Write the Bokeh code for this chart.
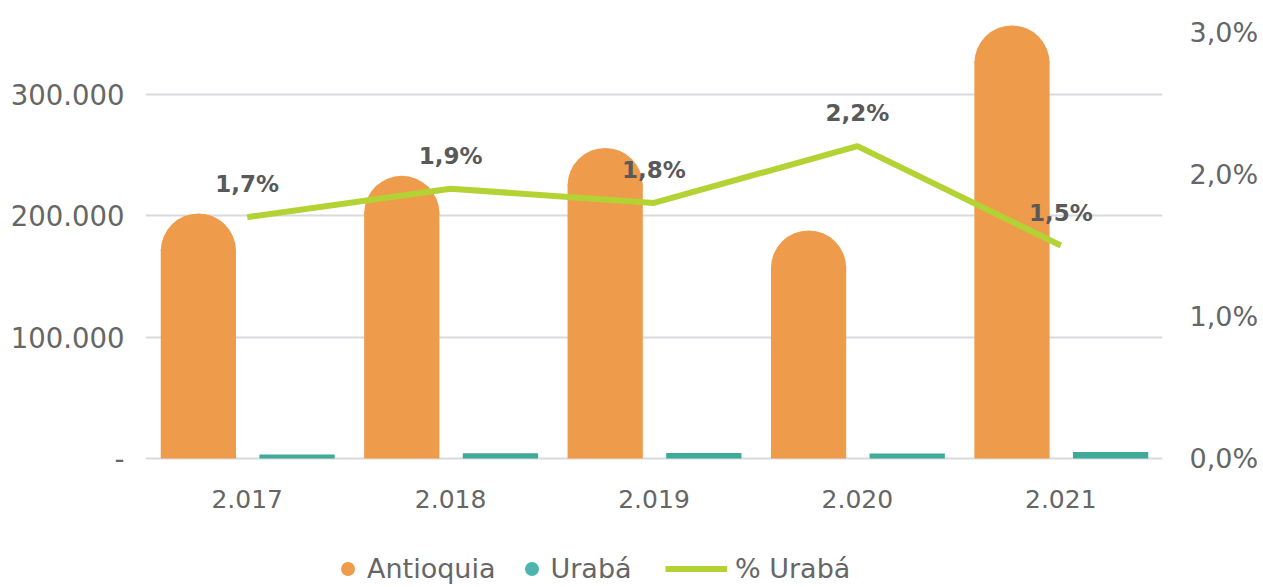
import numpy as np
from bokeh.plotting import figure
from bokeh.models import (ColumnDataSource, FactorRange, Range1d, LinearAxis,
                          Legend, LegendItem, FixedTicker)
from bokeh.transform import dodge
from bokeh.core.properties import value
from bokeh.embed import file_html
from bokeh.resources import INLINE

# ---- data ----
years = ["2.017", "2.018", "2.019", "2.020", "2.021"]
antioquia = [202000, 233000, 256000, 188000, 357000]
uraba = [3400, 4400, 4600, 4100, 5400]
pct_uraba = [1.7, 1.9, 1.8, 2.2, 1.5]
pct_labels = ["1,7%", "1,9%", "1,8%", "2,2%", "1,5%"]
left_ticks = [0, 100000, 200000, 300000]
left_tick_labels = ["-", "100.000", "200.000", "300.000"]
right_ticks = [0, 1, 2, 3]
right_tick_labels = ["0,0%", "1,0%", "2,0%", "3,0%"]

ORANGE = "#EF9B4C"
TEAL = "#3FAA98"
TEAL_LEG = "#4DB5AE"
GREEN = "#B3D334"
GREY = "#666666"
FONT = "DejaVu Sans"

W, H = 1263, 587
FL, FR, FT, FB = 145, 1162, 15, 458   # plot area edges in px (FB = zero line)
Y_MAX = 365200
P_MAX = 3.12
ny = Y_MAX / (FB - FT)                 # data units per pixel (left axis)
Y_MIN = -(H - FB) * ny                 # frame extends below zero line for labels/legend
P_MIN = -(H - FB) * P_MAX / (FB - FT)

BAR_W = 0.37
r_px = BAR_W * (FR - FL) / len(years) / 2
r_data = r_px * ny

src = ColumnDataSource(dict(year=years, antioquia=antioquia, uraba=uraba,
                            pct=pct_uraba, lab=pct_labels,
                            cap=[a - r_data for a in antioquia],
                            body=[a - r_data + 1.5 * ny for a in antioquia],
                            zero=[0] * len(years)))

p = figure(width=W, height=H, output_backend="svg", toolbar_location=None,
           x_range=FactorRange(*years, range_padding=0),
           y_range=Range1d(Y_MIN, Y_MAX),
           min_border_left=FL, min_border_right=W - FR, min_border_top=FT,
           min_border_bottom=0, outline_line_color=None)
p.extra_y_ranges = {"pct": Range1d(P_MIN, P_MAX)}

# bars (rounded tops: body + half-disc cap)
ax = dodge("year", -0.24, range=p.x_range)
p.vbar(x=ax, top="body", bottom=0, width=BAR_W, source=src,
       fill_color=ORANGE, line_color=None)
p.wedge(x=ax, y="cap", radius=r_px, radius_units="screen", start_angle=0,
        end_angle=np.pi, source=src, fill_color=ORANGE, line_color=None)
p.vbar(x=dodge("year", 0.245, range=p.x_range), top="uraba", bottom=0, width=BAR_W,
       source=src, fill_color=TEAL, line_color=None)

# line
ln = p.line(x="year", y="pct", source=src, y_range_name="pct",
            line_color=GREEN, line_width=6)
p.text(x="year", y="pct", text="lab", source=src, y_range_name="pct",
       text_font=value(FONT), text_font_style="bold", text_font_size="23px",
       text_color="#595959", text_align="center", text_baseline="middle",
       y_offset=-33)

# category labels (x axis)
p.text(x="year", y="zero", text="year", source=src,
       text_font=value(FONT), text_font_size="25px", text_color=GREY,
       text_align="center", text_baseline="middle", y_offset=40)
p.xaxis.visible = False

# left axis
p.yaxis.ticker = FixedTicker(ticks=left_ticks)
p.yaxis.major_label_overrides = {t: l for t, l in zip(left_ticks, left_tick_labels)}
p.yaxis.axis_line_color = None
p.yaxis.major_tick_line_color = None
p.yaxis.minor_tick_line_color = None
p.yaxis.major_label_text_font = FONT
p.yaxis.major_label_text_font_size = "27.5px"
p.yaxis.major_label_text_color = GREY
p.yaxis.major_label_standoff = 15

# right axis
ry = LinearAxis(y_range_name="pct", ticker=FixedTicker(ticks=right_ticks),
                major_label_overrides={t: l for t, l in zip(right_ticks, right_tick_labels)},
                axis_line_color=None, major_tick_line_color=None,
                minor_tick_line_color=None, major_label_text_font=FONT,
                major_label_text_font_size="27px", major_label_text_color=GREY,
                major_label_standoff=21)
p.add_layout(ry, "right")

p.xgrid.grid_line_color = None
p.ygrid.grid_line_color = "#D9D9DE"
p.ygrid.grid_line_width = 2

# legends (dummy, not-drawn circle renderers for dot glyphs)
nan = float("nan")
d1 = p.scatter(x=[years[0]], y=[nan], marker="circle", size=15,
               fill_color=ORANGE, line_color=None)
d2 = p.scatter(x=[years[0]], y=[nan], marker="circle", size=15,
               fill_color=TEAL_LEG, line_color=None)
common = dict(orientation="horizontal", label_text_font=FONT,
              label_text_font_size="27px", label_text_color=GREY,
              border_line_color=None, background_fill_alpha=0,
              glyph_height=35, padding=0, margin=0)
legA = Legend(items=[LegendItem(label="Antioquia", renderers=[d1]),
                     LegendItem(label="Urabá", renderers=[d2])],
              location=(185, 1), glyph_width=35, label_standoff=2, spacing=18,
              **common)
legB = Legend(items=[LegendItem(label="% Urabá", renderers=[ln])],
              location=(520, 1), glyph_width=62, label_standoff=8, **common)
p.add_layout(legA, "center")
p.add_layout(legB, "center")

open("out.html", "w").write(file_html(p, INLINE))
